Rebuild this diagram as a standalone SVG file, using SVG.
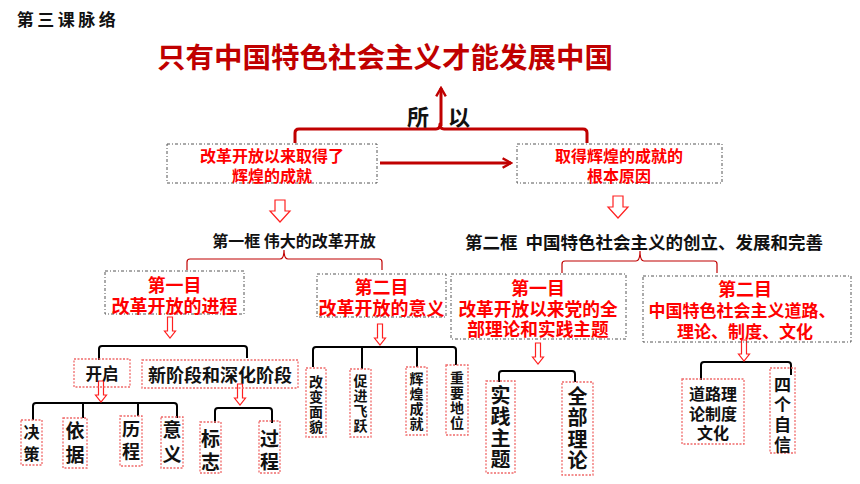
<svg xmlns="http://www.w3.org/2000/svg" xmlns:xlink="http://www.w3.org/1999/xlink" width="860" height="484" viewBox="0 0 860 484">
<style>
text{font-family:"Noto Sans CJK SC","Noto Sans",sans-serif;font-weight:bold;text-anchor:middle;dominant-baseline:central}
.red{fill:#ff0000}
.blk{fill:#111}
.gbox{fill:none;stroke:#555;stroke-width:1;stroke-dasharray:3 2 1 2}
.rbox{fill:none;stroke:#f06a6a;stroke-width:1.3;stroke-dasharray:2 1.5}
.dred{fill:none;stroke:#c00000;stroke-width:3;stroke-linejoin:round}
.thin{fill:none;stroke:#c00000;stroke-width:1.2}
.bk{fill:none;stroke:#000;stroke-width:2}
.hol{fill:#fff;stroke:#ff2020;stroke-width:1.2}
</style>
<defs>
<marker id="ah" viewBox="0 0 10 10" refX="8" refY="5" markerWidth="4" markerHeight="4" orient="auto" markerUnits="strokeWidth">
<path d="M1,1 L8,5 L1,9" fill="none" stroke="#c00000" stroke-width="2"/>
</marker>
<path id="bigA" d="M-5,0 H5 V11 H10 L0,22 L-10,11 H-5 Z"/>
<path id="smA" d="M-2.5,0 H2.5 V14 H5.5 L0,21 L-5.5,14 H-2.5 Z"/>
</defs>
<rect width="860" height="484" fill="#fff"/>

<g id="connectors">
<path class="dred" d="M295,143 V133 Q295,129 299,129 H436 Q440,129 440,124 Q440,129 444,129 H583 Q587,129 587,133 V143"/>
<line class="dred" x1="441" y1="126" x2="441" y2="88" marker-end="url(#ah)"/>
<line class="dred" x1="380" y1="163" x2="511" y2="163" marker-end="url(#ah)"/>
<path class="thin" d="M187,270 V262 Q187,259 190,259 H280 Q284,259 284,250 Q284,259 288,259 H379 Q382,259 382,262 V270"/>
<path class="thin" d="M562,273 V264 Q562,261 565,261 H636 Q640,261 640,251 Q640,261 644,261 H714 Q717,261 717,264 V273"/>
<path class="bk" d="M99,360 V349 Q99,346 102,346 H244 Q247,346 247,349 V358"/>
<path class="bk" d="M33,420 V406 Q33,403 36,403 H174 Q177,403 177,406 V418 M83,403 V418 M138,403 V416"/>
<path class="bk" d="M215,423 V411 Q215,408 218,408 H269 Q272,408 272,411 V423"/>
<path class="bk" d="M313,367 V350 Q313,347 316,347 H453 Q456,347 456,350 V365 M362,347 V369 M417,347 V367"/>
<path class="bk" d="M499,382 V374 Q499,371 502,371 H572 Q575,371 575,374 V382"/>
<path class="bk" d="M701,380 V365 Q701,362 704,362 H788 Q791,362 791,365 V375"/>
<use href="#bigA" class="hol" x="280" y="200"/>
<use href="#bigA" class="hol" x="618" y="196"/>
<use href="#smA" class="hol" x="170" y="317"/>
<use href="#smA" class="hol" x="380" y="324"/>
<use href="#smA" class="hol" x="101" y="381"/>
<use href="#smA" class="hol" x="240" y="384"/>
<use href="#smA" class="hol" x="538" y="343"/>
<use href="#smA" class="hol" x="744" y="340"/>
</g>

<g id="n-header"><text class="blk" x="68" y="18" font-size="17" letter-spacing="3.5">第三课脉络</text></g>
<g id="n-title"><text x="385" y="55" font-size="28.5" fill="#c00000">只有中国特色社会主义才能发展中国</text></g>
<g id="n-suoyi"><text class="blk" x="418" y="115" font-size="22">所</text><text class="blk" x="459" y="115" font-size="22">以</text></g>

<g id="n-left">
<rect class="gbox" x="167" y="144" width="210" height="39"/>
<text class="red" x="272" y="155" font-size="16">改革开放以来取得了</text>
<text class="red" x="272" y="175" font-size="16">辉煌的成就</text>
</g>
<g id="n-right">
<rect class="gbox" x="517" y="144" width="205" height="39"/>
<text class="red" x="619" y="155" font-size="16">取得辉煌的成就的</text>
<text class="red" x="619" y="175" font-size="16">根本原因</text>
</g>

<g id="n-frame1"><text class="blk" x="294" y="240" font-size="16">第一框 伟大的改革开放</text></g>
<g id="n-frame2"><text class="blk" x="644" y="241" font-size="17.5" xml:space="preserve">第二框  中国特色社会主义的创立、发展和完善</text></g>

<g id="n-m1">
<rect class="gbox" x="105" y="271" width="139" height="43"/>
<text class="red" x="174.5" y="284" font-size="18">第一目</text>
<text class="red" x="174.5" y="305" font-size="18">改革开放的进程</text>
</g>
<g id="n-m2">
<rect class="gbox" x="317" y="274" width="129" height="43"/>
<text class="red" x="381.5" y="286" font-size="18">第二目</text>
<text class="red" x="381.5" y="307" font-size="18">改革开放的意义</text>
</g>
<g id="n-m3">
<rect class="gbox" x="451" y="274" width="175" height="65"/>
<text class="red" x="538" y="287" font-size="18">第一目</text>
<text class="red" x="538" y="308" font-size="17.7">改革开放以来党的全</text>
<text class="red" x="538" y="328" font-size="17.7">部理论和实践主题</text>
</g>
<g id="n-m4">
<rect class="gbox" x="643" y="276" width="208" height="66"/>
<text class="red" x="745" y="288" font-size="18">第二目</text>
<text class="red" x="742" y="309" font-size="17">中国特色社会主义道路、</text>
<text class="red" x="745" y="330" font-size="17">理论、制度、文化</text>
</g>

<g id="n-kaiqi">
<rect class="rbox" x="74" y="359" width="56" height="28"/>
<text class="blk" x="102" y="373" font-size="16.5" font-weight="normal">开启</text>
</g>
<g id="n-xinjieduan">
<rect class="rbox" x="142" y="360" width="156" height="28"/>
<text class="blk" x="220" y="374" font-size="18">新阶段和深化阶段</text>
</g>

<g id="n-juece"><rect class="rbox" x="21" y="420" width="21" height="45"/><text class="blk" font-size="16" x="31.5" y="431">决</text><text class="blk" font-size="16" x="31.5" y="453">策</text></g>
<g id="n-yiju"><rect class="rbox" x="63" y="418" width="24" height="50"/><text class="blk" font-size="19" x="75" y="429">依</text><text class="blk" font-size="19" x="75" y="453">据</text></g>
<g id="n-licheng"><rect class="rbox" x="120" y="416" width="22" height="50"/><text class="blk" font-size="18" x="131" y="428">历</text><text class="blk" font-size="18" x="131" y="450">程</text></g>
<g id="n-yiyi"><rect class="rbox" x="161" y="417" width="22" height="51"/><text class="blk" font-size="19" x="172" y="428">意</text><text class="blk" font-size="19" x="172" y="453">义</text></g>
<g id="n-biaozhi"><rect class="rbox" x="200" y="422" width="21" height="51"/><text class="blk" font-size="19" x="210.5" y="437">标</text><text class="blk" font-size="19" x="210.5" y="460">志</text></g>
<g id="n-guocheng"><rect class="rbox" x="259" y="421" width="21" height="52"/><text class="blk" font-size="19" x="269.5" y="437">过</text><text class="blk" font-size="19" x="269.5" y="460">程</text></g>

<g id="n-gaibian"><rect class="rbox" x="306" y="368" width="20" height="69"/><text class="blk" font-size="14" x="316" y="381">改</text><text class="blk" font-size="14" x="316" y="396">变</text><text class="blk" font-size="14" x="316" y="411">面</text><text class="blk" font-size="14" x="316" y="426">貌</text></g>
<g id="n-cujin"><rect class="rbox" x="350" y="369" width="21" height="68"/><text class="blk" font-size="14" x="360.5" y="380">促</text><text class="blk" font-size="14" x="360.5" y="395">进</text><text class="blk" font-size="14" x="360.5" y="410">飞</text><text class="blk" font-size="14" x="360.5" y="425">跃</text></g>
<g id="n-huihuang"><rect class="rbox" x="406" y="367" width="21" height="68"/><text class="blk" font-size="14" x="416.5" y="378">辉</text><text class="blk" font-size="14" x="416.5" y="393">煌</text><text class="blk" font-size="14" x="416.5" y="408">成</text><text class="blk" font-size="14" x="416.5" y="423">就</text></g>
<g id="n-zhongyao"><rect class="rbox" x="446" y="365" width="22" height="70"/><text class="blk" font-size="14" x="457" y="377">重</text><text class="blk" font-size="14" x="457" y="392">要</text><text class="blk" font-size="14" x="457" y="407">地</text><text class="blk" font-size="14" x="457" y="422">位</text></g>

<g id="n-shijian"><rect class="rbox" x="486" y="381" width="29" height="92"/><text class="blk" font-size="20" x="500.5" y="394">实</text><text class="blk" font-size="20" x="500.5" y="415.5">践</text><text class="blk" font-size="20" x="500.5" y="437">主</text><text class="blk" font-size="20" x="500.5" y="458.5">题</text></g>
<g id="n-quanbu"><rect class="rbox" x="562" y="382" width="31" height="93"/><text class="blk" font-size="20" x="577.5" y="395">全</text><text class="blk" font-size="20" x="577.5" y="416.5">部</text><text class="blk" font-size="20" x="577.5" y="438">理</text><text class="blk" font-size="20" x="577.5" y="459.5">论</text></g>

<g id="n-daolu"><rect class="rbox" x="682" y="379" width="62" height="65"/><text class="blk" font-size="16" x="713" y="393">道路理</text><text class="blk" font-size="16" x="713" y="413">论制度</text><text class="blk" font-size="16" x="713" y="432">文化</text></g>
<g id="n-sige"><rect class="rbox" x="770" y="368" width="25" height="85"/><text class="blk" font-size="17" x="782.5" y="383">四</text><text class="blk" font-size="17" x="782.5" y="403">个</text><text class="blk" font-size="17" x="782.5" y="423">自</text><text class="blk" font-size="17" x="782.5" y="443">信</text></g>
</svg>
